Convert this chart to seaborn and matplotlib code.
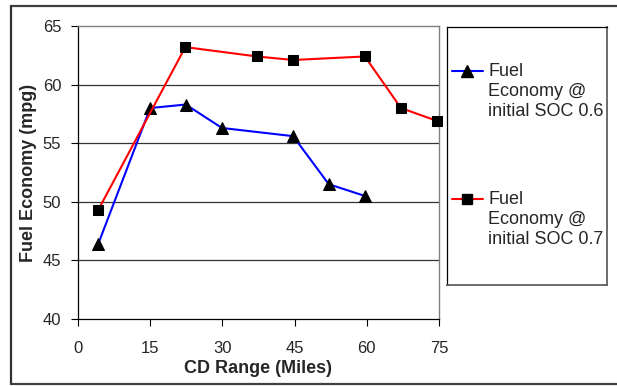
import matplotlib
matplotlib.use("Agg")
import matplotlib.pyplot as plt
from matplotlib.lines import Line2D
import seaborn as sns
import pandas as pd

# ---- data ----
x_soc06 = [4.2, 15.0, 22.4, 29.9, 44.7, 52.1, 59.6]
y_soc06 = [46.4, 58.0, 58.3, 56.3, 55.6, 51.5, 50.5]
x_soc07 = [4.2, 22.3, 37.2, 44.7, 59.6, 67.1, 74.6]
y_soc07 = [49.3, 63.2, 62.4, 62.1, 62.4, 58.0, 56.9]
label_06 = "Fuel\nEconomy @\ninitial SOC 0.6"
label_07 = "Fuel\nEconomy @\ninitial SOC 0.7"
x_ticks = [0, 15, 30, 45, 60, 75]
y_ticks = [40, 45, 50, 55, 60, 65]
x_label = "CD Range (Miles)"
y_label = "Fuel Economy (mpg)"

sns.set_style("white")
plt.rcParams['font.family'] = ['Liberation Sans', 'DejaVu Sans']

W, H = 617, 386
fig = plt.figure(figsize=(W / 100, H / 100), dpi=100)

def fx(px):
    return px / W

def fy(py):
    return 1 - py / H

ax = fig.add_axes([fx(78), fy(319), (439 - 78) / W, (319 - 26) / H])

df06 = pd.DataFrame({"x": x_soc06, "y": y_soc06})
df07 = pd.DataFrame({"x": x_soc07, "y": y_soc07})

sns.lineplot(data=df06, x="x", y="y", ax=ax, color="#0000FF", lw=1.5,
             marker="^", markersize=8, markerfacecolor="black",
             markeredgecolor="black", sort=False, clip_on=False, zorder=3)
sns.lineplot(data=df07, x="x", y="y", ax=ax, color="#FF0000", lw=1.5,
             marker="s", markersize=7, markerfacecolor="black",
             markeredgecolor="black", sort=False, clip_on=False, zorder=3)

ax.set_xlim(0, 75)
ax.set_ylim(40, 65)
ax.set_xticks(x_ticks)
ax.set_yticks(y_ticks)
ax.set_xticklabels([str(v) for v in x_ticks])
ax.set_yticklabels([str(v) for v in y_ticks])
for v in y_ticks[1:-1]:
    ax.axhline(v, color="#333333", lw=0.9, zorder=1)

ax.tick_params(axis="both", which="major", labelsize=12, direction="out",
               length=5, width=0.8, color="black")
ax.tick_params(axis="x", bottom=True, pad=11)
ax.tick_params(axis="y", left=True, pad=7)

for side in ["left", "bottom"]:
    ax.spines[side].set_color("black")
    ax.spines[side].set_linewidth(0.9)
for side in ["top", "right"]:
    ax.spines[side].set_color("#808080")
    ax.spines[side].set_linewidth(1.0)

ax.set_xlabel(x_label, fontsize=13, fontweight="bold", labelpad=3)
ax.set_ylabel(y_label, fontsize=13, fontweight="bold", labelpad=4)

# ---- legend box ----
lax = fig.add_axes([fx(447), fy(285), (607 - 447) / W, (285 - 27) / H])
lax.set_xlim(0, 160)
lax.set_ylim(258, 0)
lax.set_xticks([])
lax.set_yticks([])
for side in ["left", "top"]:
    lax.spines[side].set_color("black")
    lax.spines[side].set_linewidth(0.9)
for side in ["right", "bottom"]:
    lax.spines[side].set_color("#606060")
    lax.spines[side].set_linewidth(1.3)

entries = [(44, "#0000FF", "^", 8, label_06), (172, "#FF0000", "s", 7, label_07)]
for yc, col, mk, ms, lab in entries:
    lax.add_line(Line2D([5, 36], [yc, yc], color=col, lw=1.5))
    lax.add_line(Line2D([20], [yc], color=col, marker=mk, markersize=ms,
                        markerfacecolor="black", markeredgecolor="black"))
    lax.text(41, yc - 7.5, lab, fontsize=13, va="top", ha="left",
             linespacing=1.22)

# ---- outer border ----
fig.add_artist(Line2D([fx(11), fx(617)], [fy(5.5), fy(5.5)], color="#404040", lw=1.6))
fig.add_artist(Line2D([fx(11), fx(11)], [fy(5.5), fy(384)], color="#303030", lw=1.6))
fig.add_artist(Line2D([fx(11), fx(617)], [fy(384), fy(384)], color="#404040", lw=1.6))

fig.savefig("out.png", dpi=100)
